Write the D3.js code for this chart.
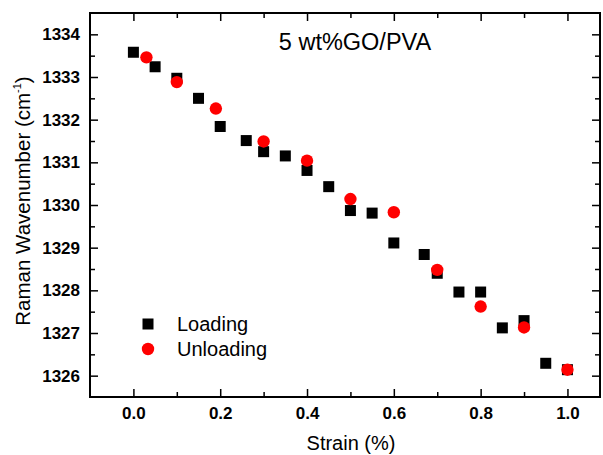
<!DOCTYPE html>
<html>
<head>
<meta charset="utf-8">
<script src="https://cdn.jsdelivr.net/npm/d3@7"></script>
<style>
  body { margin: 0; background: #fff; }
  svg { display: block; font-family: "Liberation Sans", Arial, sans-serif; }
</style>
</head>
<body>
<svg id="chart" width="603" height="455"></svg>
<script>
// ---- data ----
const loadingStrain = [0, 0.05, 0.1, 0.15, 0.2, 0.26, 0.3, 0.35, 0.4, 0.45, 0.5, 0.55, 0.6, 0.67, 0.7, 0.75, 0.8, 0.85, 0.9, 0.95, 1.0];
const loadingWave   = [1333.58, 1333.24, 1332.97, 1332.50, 1331.84, 1331.51, 1331.25, 1331.15, 1330.81, 1330.43, 1329.87, 1329.81, 1329.11, 1328.84, 1328.40, 1327.96, 1327.96, 1327.12, 1327.29, 1326.29, 1326.14];
const unloadingStrain = [0.03, 0.1, 0.19, 0.3, 0.4, 0.5, 0.6, 0.7, 0.8, 0.9, 1.0];
const unloadingWave   = [1333.46, 1332.88, 1332.26, 1331.49, 1331.04, 1330.14, 1329.83, 1328.48, 1327.62, 1327.13, 1326.14];
const xMajorTicks = [0, 0.2, 0.4, 0.6, 0.8, 1.0];
const xMinorTicks = [0.1, 0.3, 0.5, 0.7, 0.9];
const yMajorTicks = [1326, 1327, 1328, 1329, 1330, 1331, 1332, 1333, 1334];
const yMinorTicks = [1326.5, 1327.5, 1328.5, 1329.5, 1330.5, 1331.5, 1332.5, 1333.5];
const seriesNames = ["Loading", "Unloading"];
const titleText = "5 wt%GO/PVA";

// ---- layout ----
const L = 90, T = 13, R = 600, B = 397;
const svg = d3.select("#chart");
const x = d3.scaleLinear().domain([-0.1, 1.075]).range([L, R]);
const y = d3.scaleLinear().domain([1325.5, 1334.5]).range([B, T]);

function styleAxis(g) {
  g.select(".domain").remove();
  g.selectAll(".tick line").attr("stroke", "#000").attr("stroke-width", 1.5);
  g.selectAll("text").attr("fill", "#000").attr("font-weight", "bold").attr("font-size", 17).attr("font-family", "Liberation Sans, Arial, sans-serif");
}

// bottom
svg.append("g").attr("transform", `translate(0,${B})`)
  .call(d3.axisBottom(x).tickValues(xMajorTicks).tickSize(-8).tickPadding(10).tickFormat(d3.format(".1f")))
  .call(styleAxis);
svg.append("g").attr("transform", `translate(0,${B})`)
  .call(d3.axisBottom(x).tickValues(xMinorTicks).tickSize(-5).tickFormat(""))
  .call(styleAxis);
// top
svg.append("g").attr("transform", `translate(0,${T})`)
  .call(d3.axisTop(x).tickValues(xMajorTicks).tickSize(-8).tickFormat(""))
  .call(styleAxis);
svg.append("g").attr("transform", `translate(0,${T})`)
  .call(d3.axisTop(x).tickValues(xMinorTicks).tickSize(-5).tickFormat(""))
  .call(styleAxis);
// left
svg.append("g").attr("transform", `translate(${L},0)`)
  .call(d3.axisLeft(y).tickValues(yMajorTicks).tickSize(-8).tickPadding(10).tickFormat(d3.format("d")))
  .call(styleAxis);
svg.append("g").attr("transform", `translate(${L},0)`)
  .call(d3.axisLeft(y).tickValues(yMinorTicks).tickSize(-5).tickFormat(""))
  .call(styleAxis);
// right
svg.append("g").attr("transform", `translate(${R},0)`)
  .call(d3.axisRight(y).tickValues(yMajorTicks).tickSize(-8).tickFormat(""))
  .call(styleAxis);
svg.append("g").attr("transform", `translate(${R},0)`)
  .call(d3.axisRight(y).tickValues(yMinorTicks).tickSize(-5).tickFormat(""))
  .call(styleAxis);

// frame
svg.append("rect").attr("x", L).attr("y", T).attr("width", R - L).attr("height", B - T)
  .attr("fill", "none").attr("stroke", "#000").attr("stroke-width", 2);

// data
const loading = loadingStrain.map((s, i) => ({ s, w: loadingWave[i] }));
const unloading = unloadingStrain.map((s, i) => ({ s, w: unloadingWave[i] }));
const sq = 11;
svg.append("g").selectAll("rect").data(loading).join("rect")
  .attr("x", d => x(d.s) - sq / 2).attr("y", d => y(d.w) - sq / 2)
  .attr("width", sq).attr("height", sq).attr("fill", "#000");
svg.append("g").selectAll("circle").data(unloading).join("circle")
  .attr("cx", d => x(d.s)).attr("cy", d => y(d.w)).attr("r", 6.2).attr("fill", "#ff0000");

// title
svg.append("text").attr("x", 355).attr("y", 50).attr("text-anchor", "middle")
  .attr("font-size", 23.5).attr("fill", "#000").text(titleText);

// axis titles
svg.append("text").attr("x", (L + R) / 2 + 6).attr("y", 450).attr("text-anchor", "middle")
  .attr("font-size", 20).attr("fill", "#000").text("Strain (%)");
const yl = svg.append("text").attr("transform", "translate(30,201) rotate(-90)")
  .attr("text-anchor", "middle").attr("font-size", 20.5).attr("fill", "#000");
yl.append("tspan").text("Raman Wavenumber (cm");
yl.append("tspan").attr("font-size", 11).attr("dy", -9).text("-1");
yl.append("tspan").attr("dy", 9).text(")");

// legend
const lg = svg.append("g");
lg.append("rect").attr("x", 148 - sq / 2).attr("y", 324 - sq / 2).attr("width", sq).attr("height", sq).attr("fill", "#000");
lg.append("circle").attr("cx", 148).attr("cy", 349).attr("r", 6.2).attr("fill", "#ff0000");
lg.append("text").attr("x", 177).attr("y", 331).attr("font-size", 20).attr("fill", "#000").text(seriesNames[0]);
lg.append("text").attr("x", 177).attr("y", 356).attr("font-size", 20).attr("fill", "#000").text(seriesNames[1]);
</script>
</body>
</html>
